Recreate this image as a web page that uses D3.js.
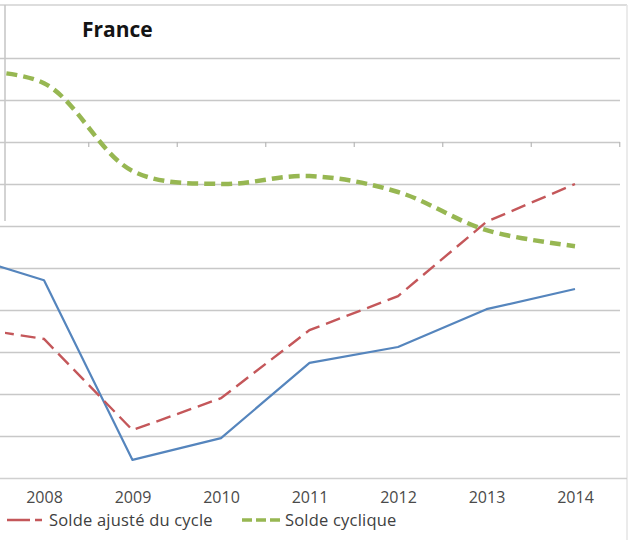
<!DOCTYPE html>
<html>
<head>
<meta charset="utf-8">
<script src="https://cdn.jsdelivr.net/npm/d3@7"></script>
<style>
  html, body { margin: 0; padding: 0; background: #fff; }
  svg { display: block; }
  text { font-family: "Open Sans", "Noto Sans", sans-serif; }
</style>
</head>
<body>
<svg id="chart" width="630" height="545"></svg>
<script>
// ---- Data (% of GDP, approximate) ----
const years = [2007, 2008, 2009, 2010, 2011, 2012, 2013, 2014];
const tickYears = [2008, 2009, 2010, 2011, 2012, 2013, 2014];
const soldePublic   = [-2.64, -3.29, -7.57, -7.05, -5.26, -4.88, -3.98, -3.50];
const soldeAjuste   = [-4.36, -4.69, -6.86, -6.10, -4.48, -3.67, -1.90, -1.00];
const soldeCyclique = [ 1.71,  1.40, -0.69, -1.00, -0.81, -1.19, -2.10, -2.48];
const gridValues = [-8, -7, -6, -5, -4, -3, -2, -1, 0, 1, 2];
const title = "France";
const legendNames = ["Solde ajusté du cycle", "Solde cyclique"];

const svg = d3.select("#chart");
const W = 630, H = 545;

const x = d3.scaleLinear().domain([2008, 2014]).range([44, 575]);
const y = d3.scaleLinear().domain([-8, 2]).range([478, 58]);

svg.append("rect").attr("width", W).attr("height", H).attr("fill", "#fff");

// clip paths
const defs = svg.append("defs");
defs.append("clipPath").attr("id", "clipA").append("rect")
  .attr("x", 0).attr("y", 0).attr("width", 622).attr("height", 480);
defs.append("clipPath").attr("id", "clipB").append("rect")
  .attr("x", 5).attr("y", 0).attr("width", 617).attr("height", 480);

// frame lines
svg.append("line").attr("x1", 0).attr("x2", 627).attr("y1", 5).attr("y2", 5)
  .attr("stroke", "#d2d2d2").attr("stroke-width", 1.5);
svg.append("line").attr("x1", 627).attr("x2", 627).attr("y1", 5).attr("y2", 540)
  .attr("stroke", "#e4e4e4").attr("stroke-width", 1.5);
svg.append("line").attr("x1", 5).attr("x2", 5).attr("y1", 5).attr("y2", 221)
  .attr("stroke", "#c4c4c4").attr("stroke-width", 1.5);

// gridlines via axis
const gridAxis = d3.axisLeft(y).tickValues(gridValues).tickSize(-620).tickFormat("");
const gg = svg.append("g").call(gridAxis);
gg.select(".domain").remove();
gg.selectAll(".tick line").attr("stroke", "#c8c8c8").attr("stroke-width", 1.5);
gg.selectAll(".tick").filter(d => d === -8).select("line")
  .attr("x2", 627).attr("stroke", "#d0d0d0");

// small tick marks on the zero line (category boundaries)
const zeroAxis = d3.axisBottom(x).tickValues(tickYears.map(v => v + 0.5))
  .tickSize(5).tickFormat("");
const zg = svg.append("g").attr("transform", `translate(0,${y(0)})`).call(zeroAxis);
zg.select(".domain").remove();
zg.selectAll(".tick line").attr("stroke", "#b8b8b8").attr("stroke-width", 1.2);

// x labels
const xAxis = d3.axisBottom(x).tickValues(tickYears).tickSize(0).tickFormat(d3.format("d"));
const xg = svg.append("g").attr("transform", `translate(0,${y(-8)})`).call(xAxis);
xg.select(".domain").remove();
xg.selectAll("text").attr("dy", 0).attr("y", 25)
  .attr("font-size", 16).attr("fill", "#4a4a4a")
  .attr("font-family", "'Open Sans', sans-serif");

// lines
const straight = d3.line().x((d, i) => x(years[i])).y(d => y(d));
const smooth = d3.line().x((d, i) => x(years[i])).y(d => y(d))
  .curve(d3.curveCatmullRom.alpha(0.5));

svg.append("path").datum(soldePublic).attr("clip-path", "url(#clipA)")
  .attr("d", straight).attr("fill", "none")
  .attr("stroke", "#5585bd").attr("stroke-width", 2.2)
  .attr("stroke-linejoin", "round");

svg.append("path").datum(soldeAjuste).attr("clip-path", "url(#clipB)")
  .attr("d", straight).attr("fill", "none")
  .attr("stroke", "#c4575a").attr("stroke-width", 2.4)
  .attr("stroke-dasharray", "15,7");

svg.append("path").datum(soldeCyclique).attr("clip-path", "url(#clipB)")
  .attr("d", smooth).attr("fill", "none")
  .attr("stroke", "#97b752").attr("stroke-width", 4.5)
  .attr("stroke-dasharray", "11,6");

// title
svg.append("text").attr("x", 82).attr("y", 37).text(title)
  .attr("font-size", 21).attr("font-weight", "bold").attr("fill", "#141414");

// legend
const leg = svg.append("g");
leg.append("line").attr("x1", 7).attr("x2", 42).attr("y1", 520).attr("y2", 520)
  .attr("stroke", "#c4575a").attr("stroke-width", 2.4).attr("stroke-dasharray", "23,5,7,100");
leg.append("text").attr("x", 49).attr("y", 526).text(legendNames[0])
  .attr("font-size", 16.5).attr("letter-spacing", 0.2).attr("fill", "#404040");
leg.append("line").attr("x1", 242).attr("x2", 284).attr("y1", 520).attr("y2", 520)
  .attr("stroke", "#97b752").attr("stroke-width", 3.5).attr("stroke-dasharray", "10,4");
leg.append("text").attr("x", 285).attr("y", 526).text(legendNames[1])
  .attr("font-size", 16.5).attr("letter-spacing", 0.2).attr("fill", "#404040");
</script>
</body>
</html>
